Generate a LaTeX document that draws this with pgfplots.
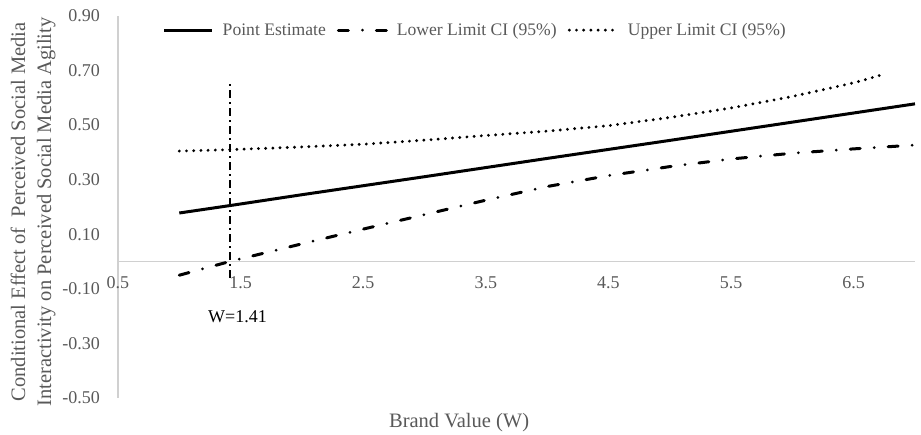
\documentclass[border=0pt]{standalone}
\usepackage{pgfplots}
\pgfplotsset{compat=1.18}
\usepackage{fontspec}
\setmainfont{Liberation Serif}
\definecolor{txt}{HTML}{595959}
\definecolor{axc}{HTML}{D0D0D0}
\begin{document}
\begin{tikzpicture}
\begin{axis}[
  at={(118pt,37pt)}, anchor=south west,
  scale only axis, width=797pt, height=382pt,
  xmin=0.5, xmax=7.0, ymin=-0.5, ymax=0.9,
  axis x line=middle, axis y line=left,
  axis line style={-, draw=axc, line width=1.3pt},
  hide obscured x ticks=false, hide obscured y ticks=false,
  xtick={0.5,1.5,2.5,3.5,4.5,5.5,6.5},
  ytick={-0.5,-0.3,-0.1,0.1,0.3,0.5,0.7,0.9},
  major tick length=0pt,
  /pgf/number format/assume math mode=true,
  xticklabel style={font=\fontsize{18}{21}\selectfont, text=txt, anchor=north, inner sep=0pt, yshift=-15pt,
    /pgf/number format/.cd, fixed, fixed zerofill, precision=1},
  yticklabel style={font=\fontsize{18}{21}\selectfont, text=txt, anchor=east, inner sep=0pt, xshift=-18pt,
    /pgf/number format/.cd, fixed, fixed zerofill, precision=2},
  xlabel={Brand Value (W)},
  xlabel style={at={(axis description cs:0.428,-0.0785)}, anchor=base, font=\fontsize{20.5}{26}\selectfont, text=txt},
  ylabel={Conditional Effect of\ \ Perceived Social Media\\Interactivity on Perceived Social Media Agility},
  ylabel style={at={(axis description cs:-0.1066,0.487)}, anchor=center, align=center, font=\fontsize{20.5}{26}\selectfont, text=txt},
  legend columns=3,
  legend style={at={(axis description cs:0.447,0.963)}, anchor=center, draw=none, fill=none,
    font=\fontsize{17.6}{21}\selectfont, text=txt, inner sep=0pt, nodes={inner sep=0pt},
    /tikz/every odd column/.append style={column sep=9pt},
    /tikz/every even column/.append style={column sep=11pt}},
  legend image code/.code={\draw[#1] (0pt,0pt) -- (48pt,0pt);},
  clip=false,
]
\addplot[black, line width=3pt] coordinates {
 (1.0,0.178) (1.41,0.205) (2.0,0.245) (3.0,0.311) (4.0,0.378) (5.0,0.444) (6.0,0.511) (7.0,0.578)};
\addlegendentry{Point Estimate}
\addplot[black, line width=3pt, line cap=round, dash pattern=on 10pt off 14pt on 0pt off 14pt] coordinates {
 (1.0,-0.050) (1.41,0.000) (2.0,0.065) (2.5,0.119) (3.0,0.172) (3.5,0.225) (4.0,0.275) (4.5,0.315)
 (5.0,0.348) (5.5,0.376) (6.0,0.397) (6.5,0.413) (7.0,0.427)};
\addlegendentry{Lower Limit CI (95\%)}
\addplot[black, line width=3.2pt, line cap=round, dash pattern=on 0pt off 7.2pt] coordinates {
 (1.0,0.405) (1.41,0.410) (2.0,0.420) (2.5,0.430) (3.0,0.445) (3.5,0.462) (4.0,0.478) (4.5,0.498)
 (5.0,0.528) (5.5,0.563) (6.0,0.605) (6.5,0.655) (6.72,0.683)};
\addlegendentry{Upper Limit CI (95\%)}
\addplot[black, line width=2pt, dash pattern=on 8pt off 4pt on 2pt off 4pt, forget plot] coordinates {
 (1.41,-0.06) (1.41,0.66)};
\node[font=\fontsize{18}{21}\selectfont, text=black, anchor=center, inner sep=0pt] at (axis cs:1.475,-0.203) {W=1.41};
\end{axis}
\pgfresetboundingbox
\path[use as bounding box] (0,0) rectangle (921pt,435pt);
\end{tikzpicture}
\end{document}
